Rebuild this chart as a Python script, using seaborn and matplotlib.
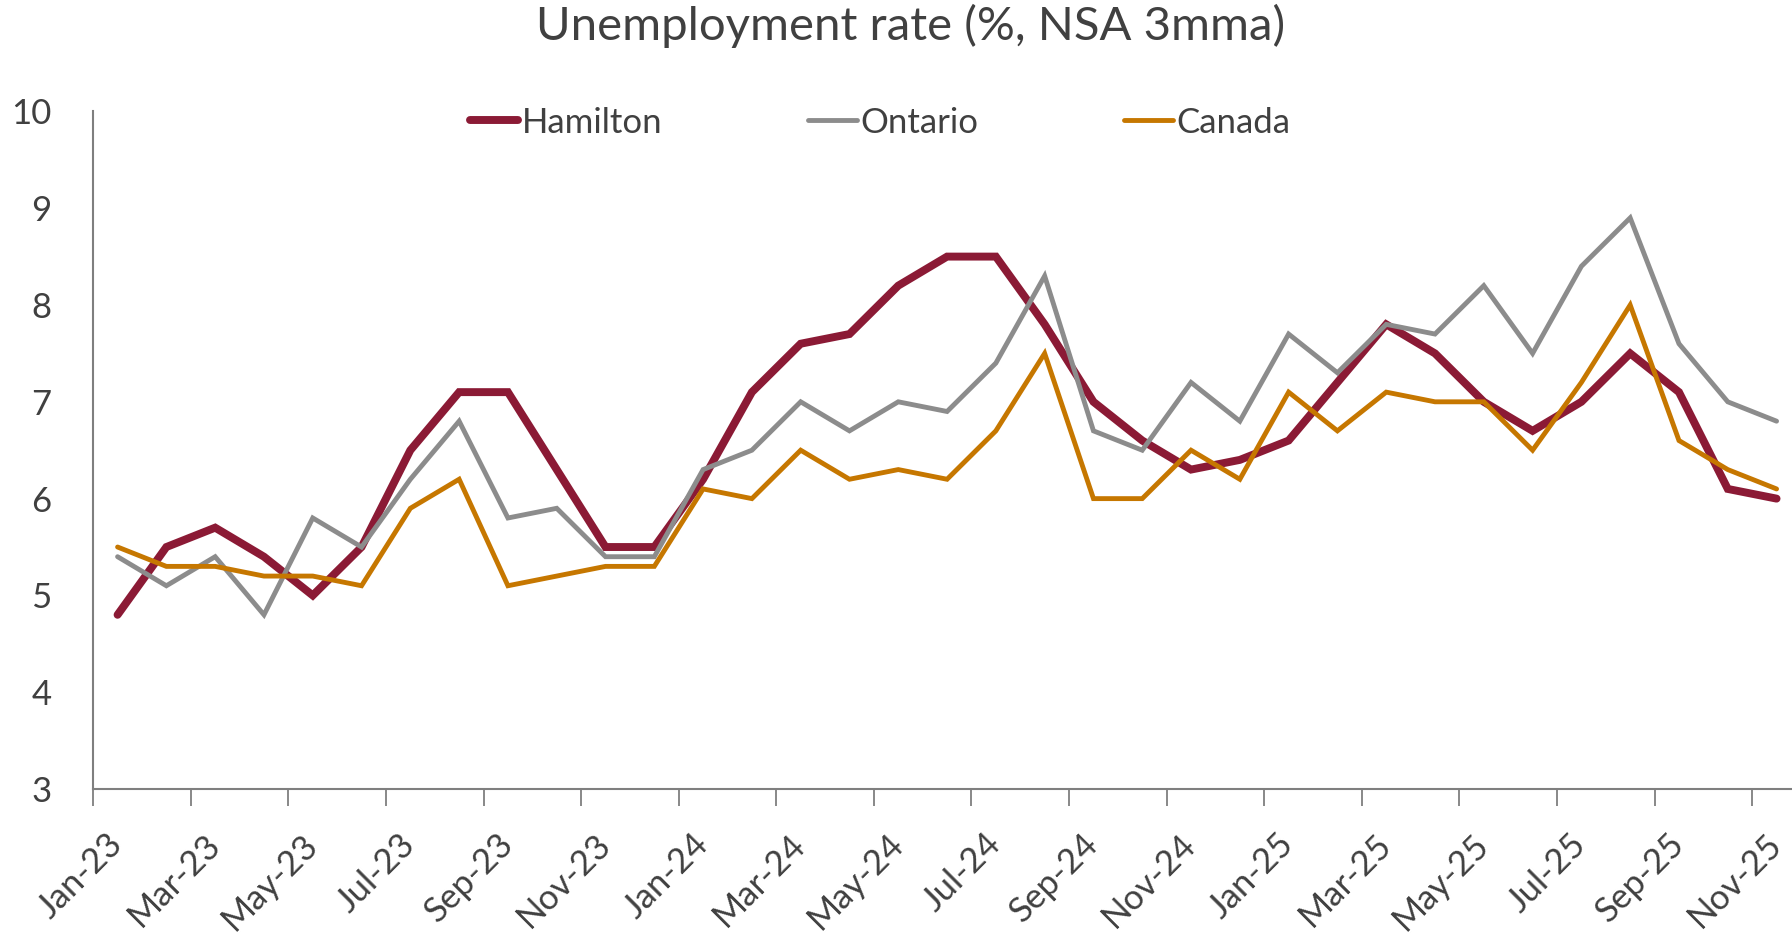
import numpy as np
import pandas as pd
import matplotlib
matplotlib.use("Agg")
import matplotlib.pyplot as plt
import seaborn as sns

# monthly categories Jan-23 .. Nov-25
months = pd.date_range("2023-01-01", "2025-11-01", freq="MS").strftime("%b-%y").tolist()

hamilton = [4.8, 5.5, 5.7, 5.4, 5.0, 5.5, 6.5, 7.1, 7.1, 6.3, 5.5, 5.5,
            6.2, 7.1, 7.6, 7.7, 8.2, 8.5, 8.5, 7.8, 7.0, 6.6, 6.3, 6.4,
            6.6, 7.2, 7.8, 7.5, 7.0, 6.7, 7.0, 7.5, 7.1, 6.1, 6.0]
ontario = [5.4, 5.1, 5.4, 4.8, 5.8, 5.5, 6.2, 6.8, 5.8, 5.9, 5.4, 5.4,
           6.3, 6.5, 7.0, 6.7, 7.0, 6.9, 7.4, 8.3, 6.7, 6.5, 7.2, 6.8,
           7.7, 7.3, 7.8, 7.7, 8.2, 7.5, 8.4, 8.9, 7.6, 7.0, 6.8]
canada = [5.5, 5.3, 5.3, 5.2, 5.2, 5.1, 5.9, 6.2, 5.1, 5.2, 5.3, 5.3,
          6.1, 6.0, 6.5, 6.2, 6.3, 6.2, 6.7, 7.5, 6.0, 6.0, 6.5, 6.2,
          7.1, 6.7, 7.1, 7.0, 7.0, 6.5, 7.2, 8.0, 6.6, 6.3, 6.1]

series = ["Hamilton", "Ontario", "Canada"]
colors = {"Hamilton": "#8B1A35", "Ontario": "#8C8C8C", "Canada": "#C67700"}
widths = {"Hamilton": 5.7, "Ontario": 3.5, "Canada": 3.5}

df = pd.DataFrame({"Hamilton": hamilton, "Ontario": ontario, "Canada": canada})
df["idx"] = np.arange(len(months))
long = df.melt(id_vars="idx", var_name="region", value_name="rate")

sns.set_style("white")
plt.rcParams["font.family"] = ["Lato", "DejaVu Sans"]
txt = "#404040"

fig = plt.figure(figsize=(17.92, 9.36), dpi=100)
ax = fig.add_axes([0.052, 0.157, 0.953, 0.724])

for name in series:
    sns.lineplot(data=long[long.region == name], x="idx", y="rate",
                 color=colors[name], linewidth=widths[name], label=name,
                 ax=ax, solid_capstyle="round", solid_joinstyle="miter")

ax.set_xlim(-0.5, len(months) - 0.5)
ax.set_ylim(3, 10)
ax.set_yticks(range(3, 11))
ax.set_xlabel("")
ax.set_ylabel("")

# tick marks between categories, labels on every second month
ax.set_xticks(np.arange(-0.5, len(months), 2))
ax.set_xticklabels([])
ax.set_xticks(np.arange(0, len(months), 2), minor=True)
ax.set_xticklabels(months[::2], minor=True, rotation=45, ha="right",
                   va="center", rotation_mode="anchor")
ax.tick_params(axis="x", which="major", length=12, width=1.3,
               color="#7f7f7f", direction="out", bottom=True)
ax.tick_params(axis="x", which="minor", length=0, pad=36,
               labelsize=25, labelcolor=txt)
ax.tick_params(axis="y", length=0, pad=30, labelsize=25, labelcolor=txt)

sns.despine(ax=ax)
for s in ["left", "bottom"]:
    ax.spines[s].set_color("#7f7f7f")
    ax.spines[s].set_linewidth(1.5)

leg = ax.legend(loc="center left", bbox_to_anchor=(0.262, 0.869),
                bbox_transform=fig.transFigure, ncol=3, frameon=False,
                fontsize=25, handlelength=1.4, handletextpad=0.1,
                columnspacing=4.2, borderpad=0, borderaxespad=0)
for t in leg.get_texts():
    t.set_color(txt)

fig.text(0.508, 0.972, "Unemployment rate (%, NSA 3mma)", ha="center",
         va="center", fontsize=34, color=txt)

fig.savefig("out.png", dpi=100)
